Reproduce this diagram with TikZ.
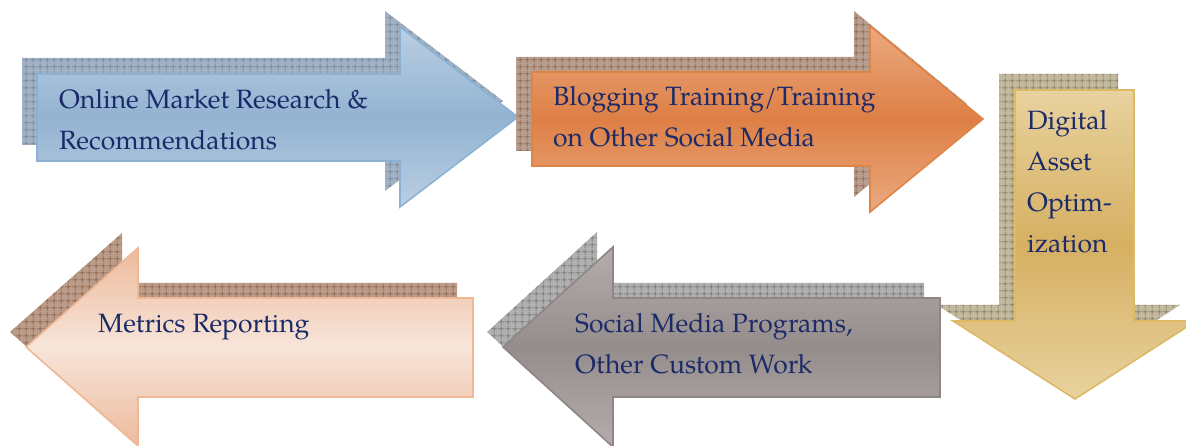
\documentclass[tikz,border=0pt]{standalone}
\usepackage{fontspec}
\setmainfont{TeX Gyre Pagella}
\usetikzlibrary{patterns.meta}
\definecolor{navy}{HTML}{1B2A68}
\definecolor{bluetop}{HTML}{B9CFE3}
\definecolor{bluemid}{HTML}{93B3D2}
\definecolor{blueedge}{HTML}{8DB1D2}
\definecolor{blueshad}{HTML}{A3B2C3}
\definecolor{bluehatch}{HTML}{5C7490}
\definecolor{orgtop}{HTML}{EAAA80}
\definecolor{orgmid}{HTML}{DE7F45}
\definecolor{orgedge}{HTML}{E08446}
\definecolor{orgshad}{HTML}{B89E8E}
\definecolor{orghatch}{HTML}{7A4F35}
\definecolor{goldtop}{HTML}{E8D29E}
\definecolor{goldmid}{HTML}{D6B062}
\definecolor{goldedge}{HTML}{DDB963}
\definecolor{goldshad}{HTML}{C2B99E}
\definecolor{goldhatch}{HTML}{6E6448}
\definecolor{pinklight}{HTML}{F7E5DA}
\definecolor{pinkdark}{HTML}{EDBA9C}
\definecolor{pinkedge}{HTML}{EEB894}
\definecolor{pinkshad}{HTML}{BB9C8A}
\definecolor{pinkhatch}{HTML}{7A4A30}
\definecolor{graytop}{HTML}{B5ACAC}
\definecolor{graymid}{HTML}{958C8C}
\definecolor{grayedge}{HTML}{8E8585}
\definecolor{grayshad}{HTML}{B0B0B0}
\definecolor{grayhatch}{HTML}{5E5E5E}
\tikzset{
  shadowbox/.style 2 args={fill=#1, postaction={pattern={Hatch[angle=0,distance=6.5pt,line width=0.5pt]}, pattern color=#2}},
  arrowbox/.style={line width=1.6pt, line join=miter},
  label/.style={anchor=base west, align=left, inner sep=0pt, text=navy,
    font=\fontsize{26.5}{41}\selectfont},
}
\begin{document}
\begin{tikzpicture}[x=1pt,y=-1pt]
\useasboundingbox (0,0) rectangle (1186,446);
\clip (0,0) rectangle (1186,446);
% blue arrow
\path[shadowbox={blueshad}{bluehatch}] (22,58) -- (385,58) -- (385,11) -- (503,101) -- (385,191) -- (385,145) -- (22,145) -- cycle;
\shade[arrowbox, draw=blueedge, top color=bluetop, bottom color=bluetop, middle color=bluemid]
  (37,74) -- (400,74) -- (400,27) -- (518,117) -- (400,207) -- (400,161) -- (37,161) -- cycle;
% orange arrow
\path[shadowbox={orgshad}{orghatch}] (516,57) -- (854,57) -- (854,11) -- (967,104) -- (854,197) -- (854,151) -- (516,151) -- cycle;
\shade[arrowbox, draw=orgedge, top color=orgtop, bottom color=orgtop, middle color=orgmid]
  (532,72) -- (870,72) -- (870,26) -- (983,119) -- (870,212) -- (870,166) -- (532,166) -- cycle;
% gold arrow
\path[shadowbox={goldshad}{goldhatch}] (999,74) -- (1118,74) -- (1118,305) -- (1180,305) -- (1059,383) -- (937,305) -- (999,305) -- cycle;
\shade[arrowbox, draw=goldedge, top color=goldtop, bottom color=goldtop, middle color=goldmid]
  (1015,90) -- (1134,90) -- (1134,321) -- (1196,321) -- (1075,399) -- (953,321) -- (1015,321) -- cycle;
% gray arrow
\path[shadowbox={grayshad}{grayhatch}] (924,283) -- (597,283) -- (597,232) -- (487,332) -- (597,432) -- (597,382) -- (924,382) -- cycle;
\shade[arrowbox, draw=grayedge, top color=graytop, bottom color=graytop, middle color=graymid]
  (940,298) -- (613,298) -- (613,247) -- (503,347) -- (613,447) -- (613,397) -- (940,397) -- cycle;
% pink arrow
\path[shadowbox={pinkshad}{pinkhatch}] (457,283) -- (122,283) -- (122,233) -- (10,332) -- (122,431) -- (122,382) -- (457,382) -- cycle;
\shade[arrowbox, draw=pinkedge, shading angle=35, top color=pinkdark, bottom color=pinkdark, middle color=pinklight]
  (473,298) -- (138,298) -- (138,248) -- (26,347) -- (138,446) -- (138,397) -- (473,397) -- cycle;
% labels (base anchor = baseline of the last line)
\node[label] (research) at (59,150) {Online Market Research \&\\Recommendations};
\node[label] (blogging) at (553,147) {Blogging Training/Training\\on Other Social Media};
\node[label] (digital) at (1027,253) {Digital\\Asset\\Optim-\\ization};
\node[label] (programs) at (575,373) {Social Media Programs,\\Other Custom Work};
\node[label] (metrics) at (98,332) {Metrics Reporting};
\end{tikzpicture}
\end{document}
